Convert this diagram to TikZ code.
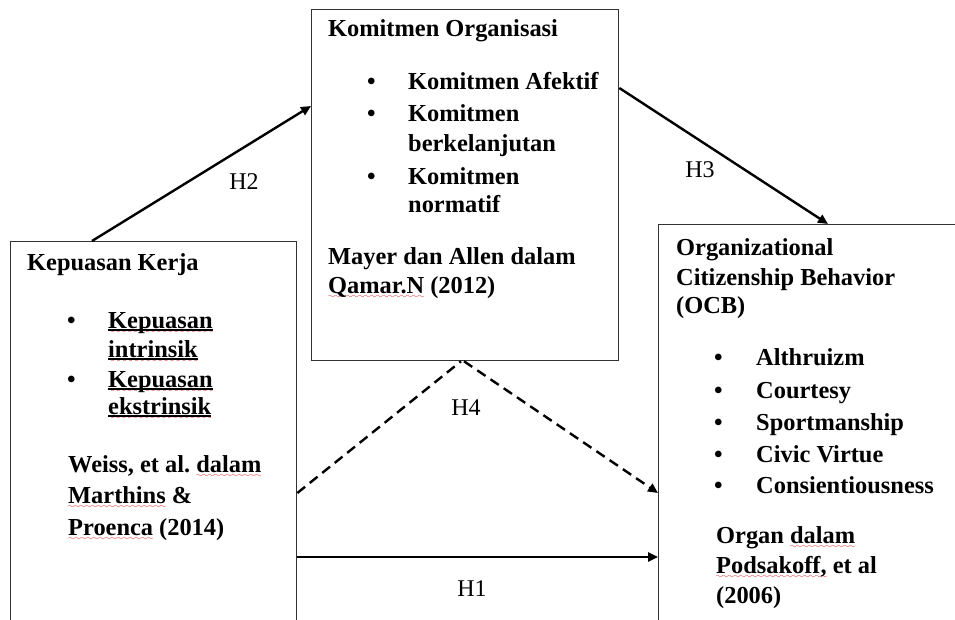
\documentclass[tikz,border=0pt]{standalone}
\usepackage{fontspec}
\setmainfont{Liberation Serif}
\usetikzlibrary{arrows.meta,calc}
\newcommand\wavefont{\fontencoding{U}\fontfamily{lasy}\fontseries{m}\fontshape{n}\fontsize{8}{8}\selectfont}
\newcommand\wv[1]{\setbox0=\hbox{#1}\rlap{\smash{\lower5.5pt\hbox to\wd0{\color{red!85!black}\wavefont\xleaders\hbox{\char58}\hfil}}}\box0\relax}
\newcommand\ub[1]{\setbox0=\hbox{#1}\rlap{\smash{\rule[-2.6pt]{\wd0}{1.2pt}}}\box0\relax}
\begin{document}
\begin{tikzpicture}[x=1pt,y=-1pt,
  box/.style={draw=black!80, line width=1.3pt, rectangle, anchor=north west, inner sep=0pt},
  txt/.style={anchor=base west, inner sep=0pt, font=\fontsize{24.4}{28}\selectfont\bfseries},
  lbl/.style={inner sep=0pt, font=\fontsize{24}{28}\selectfont},
  arr/.style={line width=2.4pt, -{Triangle[length=10pt,width=9pt]}},
  dsh/.style={line width=2.4pt, dash pattern=on 10pt off 6pt}]
\useasboundingbox (0,0) rectangle (955,620);
\clip (0,0) rectangle (955,620);
\fill[white] (0,0) rectangle (955,620);

% boxes
\node[box, minimum width=286pt, minimum height=420pt] (lk) at (10,241) {};
\node[box, minimum width=307pt, minimum height=351pt] (ko) at (311,9) {};
\node[box, minimum width=320pt, minimum height=420pt] (ocb) at (658,224) {};

% left box text
\node[txt] (lk1) at (27,270) {Kepuasan Kerja};
\node[txt] (lkb1) at (67,328) {\textbullet};
\node[txt] (lk2) at (108,328) {\wv{\ub{Kepuasan}}};
\node[txt] (lk3) at (108,357) {\wv{\ub{intrinsik}}};
\node[txt] (lkb2) at (67,387) {\textbullet};
\node[txt] (lk4) at (108,387) {\wv{\ub{Kepuasan}}};
\node[txt] (lk5) at (108,414) {\wv{\ub{ekstrinsik}}};
\node[txt] (lk6) at (68,472) {Weiss, et al.\ \wv{dalam}};
\node[txt] (lk7) at (68,503) {\wv{Marthins} \&};
\node[txt] (lk8) at (68,535) {\wv{Proenca} (2014)};

% middle box text
\node[txt] (ko1) at (328,37) {Komitmen Organisasi};
\node[txt] (kob1) at (367,90) {\textbullet};
\node[txt] (ko2) at (408,90) {Komitmen Afektif};
\node[txt] (kob2) at (367,122) {\textbullet};
\node[txt] (ko3) at (408,122) {Komitmen};
\node[txt] (ko4) at (408,152) {berkelanjutan};
\node[txt] (kob3) at (367,185) {\textbullet};
\node[txt] (ko5) at (408,185) {Komitmen};
\node[txt] (ko6) at (408,213) {normatif};
\node[txt] (ko7) at (328,265) {Mayer dan Allen dalam};
\node[txt] (ko8) at (328,293) {\wv{Qamar.N} (2012)};

% right box text
\node[txt] (oc1) at (676,255) {Organizational};
\node[txt] (oc2) at (676,285) {Citizenship Behavior};
\node[txt] (oc3) at (676,313) {(OCB)};
\node[txt] (ocb1) at (714,365) {\textbullet};
\node[txt] (oc4) at (756,365) {Althruizm};
\node[txt] (ocb2) at (714,398) {\textbullet};
\node[txt] (oc5) at (756,398) {Courtesy};
\node[txt] (ocb3) at (714,430) {\textbullet};
\node[txt] (oc6) at (756,430) {Sportmanship};
\node[txt] (ocb4) at (714,462) {\textbullet};
\node[txt] (oc7) at (756,462) {Civic Virtue};
\node[txt] (ocb5) at (714,493) {\textbullet};
\node[txt] (oc8) at (756,493) {Consientiousness};
\node[txt] (oc9) at (716,543) {Organ \wv{dalam}};
\node[txt] (oc10) at (716,573) {\wv{Podsakoff,} et al};
\node[txt] (oc11) at (716,603) {(2006)};

% connectors
\draw[arr] ($(lk.north west)+(82,0)$) -- ($(ko.north west)+(0,97)$);
\draw[arr] ($(ko.north east)+(0,79)$) -- ($(ocb.north west)+(170,0)$);
\draw[dsh] ($(lk.north east)+(0,252)$) -- ($(ko.south west)+(150,0)$);
\draw[dsh, -{Triangle[length=10pt,width=9pt]}] ($(ko.south west)+(153,0)$) -- ($(ocb.north west)+(0,269)$);
\draw[arr] ($(lk.north east)+(0,316)$) -- ($(ocb.north west)+(0,333)$);

% labels
\node[lbl] (h2) at (244,182) {H2};
\node[lbl] (h3) at (700,170) {H3};
\node[lbl] (h4) at (466,408) {H4};
\node[lbl] (h1) at (472,589) {H1};
\end{tikzpicture}
\end{document}
